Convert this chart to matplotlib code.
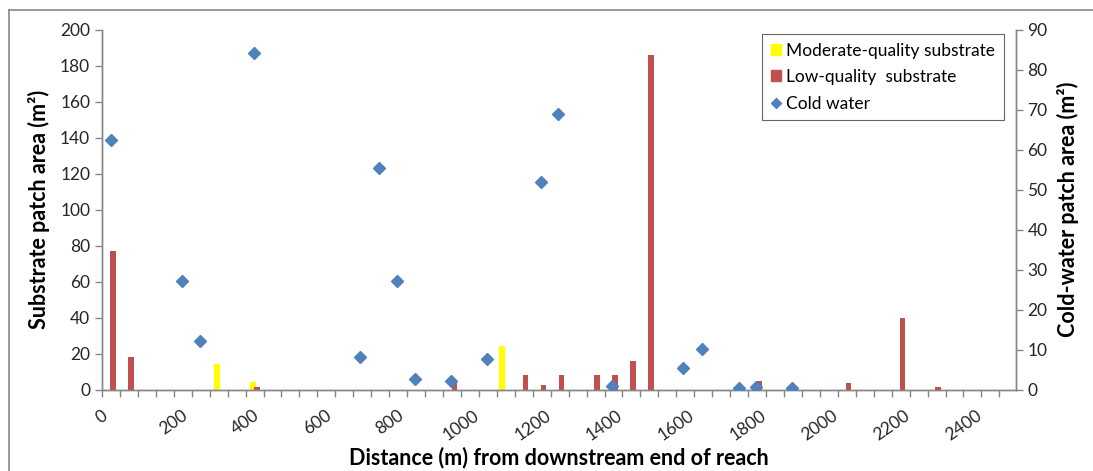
import numpy as np
import matplotlib.pyplot as plt
from matplotlib.lines import Line2D
from matplotlib.patches import Patch
from matplotlib.ticker import MultipleLocator

plt.rcParams['font.family'] = ['Lato', 'DejaVu Sans']

# moderate-quality substrate patches (distance m, area m2)
mod_dist = [320, 420, 1115]
mod_area = [14, 4, 24]

# low-quality substrate patches
low_dist = [30, 80, 432, 982, 1180, 1230, 1280, 1380, 1430, 1480, 1530,
            1830, 2080, 2230, 2330]
low_area = [77, 18, 1.5, 3.5, 8, 2.5, 8, 8, 8, 16, 186, 5, 3.8, 40, 1.5]

# cold-water patches (right axis)
cold_dist = [25, 222, 273, 424, 720, 773, 821, 873, 972, 1072, 1223, 1271,
             1422, 1620, 1671, 1774, 1823, 1922]
cold_area = [62.5, 27.1, 12.1, 84.2, 8.1, 55.3, 27.2, 2.6, 2.1, 7.6, 52, 69,
             0.8, 5.5, 10.1, 0.45, 0.7, 0.3]

yellow = '#FFFF00'
red = '#C0504D'
blue = '#4F81BD'
grey = '#868686'
txt = '#262626'

W, H = 1093, 471
fig = plt.figure(figsize=(W / 100, H / 100), dpi=100)
ax = fig.add_axes([102 / W, 1 - 389.5 / H, (1015.5 - 102) / W, (389.5 - 29.5) / H])
ax2 = ax.twinx()

ax.bar(mod_dist, mod_area, width=16, color=yellow, zorder=2)
ax.bar(low_dist, low_area, width=16, color=red, zorder=2)
ax2.plot(cold_dist, cold_area, linestyle='none', marker='D', markersize=6.5,
         color=blue, zorder=3)

ax.set_xlim(0, 2545)
ax.set_ylim(0, 200)
ax2.set_ylim(0, 90)
ax.xaxis.set_major_locator(MultipleLocator(200))
ax.xaxis.set_minor_locator(MultipleLocator(50))
ax.yaxis.set_major_locator(MultipleLocator(20))
ax2.yaxis.set_major_locator(MultipleLocator(10))

for a in (ax, ax2):
    a.spines['top'].set_visible(False)
    for s in ('left', 'right', 'bottom'):
        a.spines[s].set_color(grey)
        a.spines[s].set_linewidth(1)
    a.tick_params(colors=grey, labelcolor=txt, labelsize=12.5, length=5, width=1)
ax.tick_params(axis='x', which='minor', length=5, color=grey, width=1)
ax.tick_params(axis='x', which='major', pad=8)

for lab in ax.get_xticklabels():
    lab.set_rotation(35)
    lab.set_ha('center')

ax.set_ylabel('Substrate patch area (m²)', fontsize=15.5, fontweight='bold',
              color='black', labelpad=7)
ax2.set_ylabel('Cold-water patch area (m²)', fontsize=15.5, fontweight='bold',
               color='black', labelpad=7)
ax.set_xlabel('Distance (m) from downstream end of reach', fontsize=15.5,
              fontweight='bold', color='black', labelpad=2)

handles = [Patch(color=yellow), Patch(color=red),
           Line2D([], [], linestyle='none', marker='D', markersize=5.5, color=blue)]
labels = ['Moderate-quality substrate', 'Low-quality  substrate', 'Cold water']
leg = ax2.legend(handles, labels, loc='upper left',
                 bbox_to_anchor=(762 / W, 1 - 34 / H), bbox_transform=fig.transFigure,
                 fontsize=12.5, frameon=True, fancybox=False, handlelength=0.6,
                 handleheight=0.6, handletextpad=0.3, borderpad=0.5,
                 labelspacing=0.6, borderaxespad=0)
leg.get_frame().set_edgecolor('#404040')
leg.get_frame().set_linewidth(0.8)

# outer chart border (only top and left edges inside the image)
fig.add_artist(Line2D([9 / W, 9 / W], [0, 1 - 10 / H], color=grey, lw=1.2,
                      transform=fig.transFigure))
fig.add_artist(Line2D([9 / W, 1], [1 - 10 / H, 1 - 10 / H], color=grey, lw=1.2,
                      transform=fig.transFigure))

fig.savefig('out.png', dpi=100)
